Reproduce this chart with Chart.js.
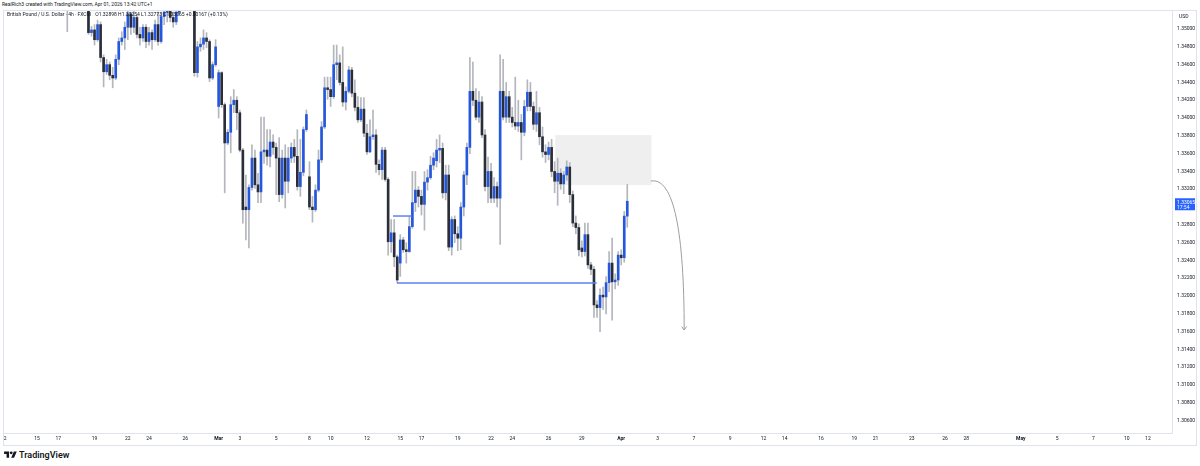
<!DOCTYPE html>
<html>
<head>
<meta charset="utf-8">
<script src="https://cdn.jsdelivr.net/npm/chart.js@4.4.1/dist/chart.umd.min.js"></script>
<style>
  html, body { margin: 0; padding: 0; background: #fff; }
  #page { position: relative; width: 1200px; height: 466px; overflow: hidden; font-family: Roboto, "Liberation Sans", sans-serif; color: #131722; }
  #credit { position: absolute; left: 2px; top: 1px; font-size: 5px; line-height: 7px; white-space: nowrap; }
  #legend { position: absolute; left: 7px; top: 11px; font-size: 5px; line-height: 7px; white-space: nowrap; z-index: 2; }
  #legend span { margin-left: 3px; }
  #usd { position: absolute; left: 1179px; top: 13px; font-size: 5px; line-height: 6px; z-index: 2; }
  #box { position: absolute; left: 3px; top: 10px; width: 1194px; height: 436px; }
  #logo { position: absolute; left: 4px; top: 449px; height: 12px; display: flex; align-items: center; gap: 2px; font-size: 9px; font-weight: 600; }
</style>
</head>
<body>
<div id="page">
  <div id="credit">RealRich3 created with TradingView.com, Apr 01, 2026 13:42 UTC+1</div>
  <div id="legend">British Pound / U.S. Dollar · 4h · FXCM <span>O1.32898 H1.33254 L1.32773 C1.33065 +0.00167 (+0.13%)</span></div>
  <div id="usd">USD</div>
  <div id="box"><canvas id="chart"></canvas></div>
  <div id="logo">
    <svg width="13" height="10" viewBox="0 0 36 28"><path d="M14 22H7V11H0V4h14v18zM28 22h-8l7.5-18h8L28 22z" fill="#131722"/><circle cx="20" cy="8" r="4" fill="#131722"/></svg>
    <span>TradingView</span>
  </div>
</div>
<script>
// 4h bars, index counted from Sunday Feb 8 open (first visible bar is 40)
const firstBar = 40;

const opens = [
  1.3536,1.3528,1.3533,1.3530,1.3541,1.3535,1.3529,1.3527,1.3496,1.3499,
  1.3488,1.3505,1.3468,1.3452,1.3460,1.3448,1.3445,1.3466,1.3486,1.3490,
  1.3502,1.3517,1.3502,1.3513,1.3494,1.3490,1.3502,1.3486,1.3496,1.3488,
  1.3505,1.3486,1.3514,1.3519,1.3524,1.3513,1.3508,1.3519,1.3530,1.3538,
  1.3533,1.3540,1.3535,1.3451,1.3480,1.3483,1.3490,1.3486,1.3445,1.3460,
  1.3413,1.3451,1.3415,1.3372,1.3384,1.3415,1.3420,1.3406,1.3364,1.3300,
  1.3297,1.3322,1.3355,1.3325,1.3317,1.3362,1.3364,1.3357,1.3373,1.3367,
  1.3355,1.3314,1.3355,1.3329,1.3355,1.3367,1.3357,1.3323,1.3339,1.3387,
  1.3334,1.3300,1.3297,1.3319,1.3353,1.3390,1.3434,1.3432,1.3424,1.3460,
  1.3462,1.3440,1.3418,1.3430,1.3454,1.3428,1.3412,1.3398,1.3410,1.3383,
  1.3362,1.3379,1.3381,1.3348,1.3342,1.3364,1.3331,1.3261,1.3271,1.3244,
  1.3237,1.3263,1.3252,1.3250,1.3278,1.3305,1.3319,1.3312,1.3303,1.3328,
  1.3333,1.3347,1.3352,1.3364,1.3366,1.3316,1.3336,1.3255,1.3286,1.3270,
  1.3265,1.3300,1.3336,1.3367,1.3430,1.3420,1.3401,1.3418,1.3381,1.3323,
  1.3340,1.3310,1.3323,1.3310,1.3430,1.3401,1.3424,1.3401,1.3395,1.3391,
  1.3395,1.3384,1.3413,1.3429,1.3413,1.3393,1.3406,1.3379,1.3362,1.3359,
  1.3367,1.3340,1.3329,1.3338,1.3326,1.3336,1.3345,1.3314,1.3282,1.3277,
  1.3254,1.3250,1.3269,1.3235,1.3230,1.3190,1.3187,1.3201,1.3199,1.3215,
  1.3237,1.3216,1.3218,1.3246,1.3243,1.32898
];
const highs = [
  1.3541,1.3538,1.3540,1.3545,1.3546,1.3538,1.3534,1.3531,1.3503,1.3505,
  1.3510,1.3508,1.3471,1.3466,1.3463,1.3457,1.3471,1.3490,1.3497,1.3508,
  1.3522,1.3519,1.3522,1.3516,1.3502,1.3505,1.3505,1.3502,1.3499,1.3510,
  1.3519,1.3519,1.3524,1.3530,1.3528,1.3519,1.3528,1.3536,1.3545,1.3544,
  1.3546,1.3548,1.3540,1.3486,1.3490,1.3499,1.3496,1.3488,1.3463,1.3488,
  1.3454,1.3452,1.3417,1.3387,1.3424,1.3432,1.3424,1.3409,1.3366,1.3336,
  1.3325,1.3370,1.3364,1.3338,1.3401,1.3401,1.3387,1.3387,1.3381,1.3372,
  1.3378,1.3364,1.3370,1.3367,1.3372,1.3376,1.3387,1.3376,1.3390,1.3409,
  1.3351,1.3312,1.3325,1.3364,1.3396,1.3446,1.3446,1.3446,1.3482,1.3482,
  1.3471,1.3480,1.3435,1.3458,1.3457,1.3443,1.3424,1.3423,1.3423,1.3393,
  1.3398,1.3409,1.3387,1.3353,1.3367,1.3367,1.3333,1.3286,1.3286,1.3246,
  1.3269,1.3266,1.3260,1.3289,1.3340,1.3340,1.3323,1.3319,1.3340,1.3342,
  1.3357,1.3361,1.3376,1.3381,1.3372,1.3347,1.3347,1.3289,1.3290,1.3278,
  1.3305,1.3340,1.3372,1.3468,1.3463,1.3433,1.3430,1.3424,1.3387,1.3356,
  1.3349,1.3333,1.3328,1.3471,1.3466,1.3440,1.3430,1.3412,1.3446,1.3420,
  1.3404,1.3420,1.3443,1.3440,1.3418,1.3430,1.3412,1.3390,1.3370,1.3373,
  1.3376,1.3351,1.3355,1.3343,1.3340,1.3352,1.3350,1.3318,1.3290,1.3281,
  1.3262,1.3282,1.3282,1.3238,1.3233,1.3195,1.3208,1.3210,1.3222,1.3250,
  1.3265,1.3225,1.3250,1.3252,1.3295,1.33254
];
const lows = [
  1.3497,1.3523,1.3525,1.3527,1.3531,1.3526,1.3523,1.3494,1.3492,1.3482,
  1.3486,1.3463,1.3435,1.3449,1.3443,1.3434,1.3443,1.3460,1.3482,1.3477,
  1.3488,1.3494,1.3496,1.3490,1.3482,1.3486,1.3479,1.3482,1.3477,1.3486,
  1.3482,1.3484,1.3505,1.3508,1.3508,1.3502,1.3505,1.3516,1.3524,1.3527,
  1.3525,1.3528,1.3447,1.3446,1.3475,1.3477,1.3479,1.3441,1.3443,1.3458,
  1.3400,1.3412,1.3316,1.3370,1.3361,1.3406,1.3387,1.3362,1.3282,1.3263,
  1.3254,1.3319,1.3321,1.3305,1.3305,1.3349,1.3347,1.3345,1.3359,1.3314,
  1.3306,1.3310,1.3299,1.3316,1.3350,1.3350,1.3319,1.3312,1.3335,1.3385,
  1.3297,1.3283,1.3295,1.3317,1.3350,1.3388,1.3421,1.3413,1.3422,1.3443,
  1.3437,1.3413,1.3409,1.3428,1.3424,1.3408,1.3395,1.3396,1.3379,1.3359,
  1.3361,1.3376,1.3339,1.3336,1.3331,1.3329,1.3246,1.3249,1.3233,1.3215,
  1.3222,1.3249,1.3237,1.3249,1.3276,1.3295,1.3300,1.3291,1.3274,1.3319,
  1.3331,1.3342,1.3345,1.3350,1.3310,1.3308,1.3251,1.3246,1.3260,1.3251,
  1.3252,1.3290,1.3325,1.3360,1.3414,1.3398,1.3395,1.3378,1.3318,1.3305,
  1.3305,1.3305,1.3300,1.3258,1.3398,1.3395,1.3395,1.3390,1.3387,1.3385,
  1.3353,1.3380,1.3408,1.3408,1.3387,1.3385,1.3370,1.3356,1.3350,1.3353,
  1.3334,1.3316,1.3302,1.3320,1.3315,1.3330,1.3305,1.3278,1.3270,1.3245,
  1.3244,1.3245,1.3231,1.3224,1.3176,1.3176,1.3160,1.3185,1.3180,1.3205,
  1.3173,1.3208,1.3212,1.3235,1.3238,1.32773
];
const closes = [
  1.3528,1.3533,1.3530,1.3541,1.3535,1.3529,1.3527,1.3496,1.3499,1.3488,
  1.3505,1.3468,1.3452,1.3460,1.3448,1.3445,1.3466,1.3486,1.3490,1.3502,
  1.3517,1.3502,1.3513,1.3494,1.3490,1.3502,1.3486,1.3496,1.3488,1.3505,
  1.3486,1.3514,1.3519,1.3524,1.3513,1.3508,1.3519,1.3530,1.3538,1.3533,
  1.3540,1.3535,1.3451,1.3480,1.3483,1.3490,1.3486,1.3445,1.3460,1.3480,
  1.3451,1.3415,1.3372,1.3384,1.3415,1.3420,1.3406,1.3364,1.3297,1.3297,
  1.3322,1.3355,1.3325,1.3317,1.3362,1.3364,1.3357,1.3373,1.3367,1.3355,
  1.3314,1.3355,1.3329,1.3355,1.3367,1.3357,1.3323,1.3339,1.3387,1.3404,
  1.3300,1.3297,1.3319,1.3353,1.3390,1.3434,1.3432,1.3424,1.3460,1.3462,
  1.3440,1.3418,1.3430,1.3454,1.3428,1.3412,1.3398,1.3410,1.3383,1.3362,
  1.3379,1.3381,1.3348,1.3342,1.3364,1.3331,1.3261,1.3271,1.3244,1.3218,
  1.3263,1.3252,1.3250,1.3278,1.3305,1.3319,1.3312,1.3303,1.3328,1.3333,
  1.3347,1.3355,1.3364,1.3366,1.3316,1.3336,1.3255,1.3286,1.3270,1.3265,
  1.3300,1.3336,1.3367,1.3430,1.3420,1.3401,1.3418,1.3381,1.3323,1.3340,
  1.3310,1.3323,1.3310,1.3430,1.3401,1.3424,1.3401,1.3395,1.3391,1.3395,
  1.3384,1.3413,1.3429,1.3413,1.3393,1.3406,1.3379,1.3362,1.3359,1.3367,
  1.3340,1.3329,1.3338,1.3326,1.3336,1.3345,1.3314,1.3282,1.3277,1.3252,
  1.3250,1.3269,1.3235,1.3230,1.3190,1.3187,1.3201,1.3199,1.3215,1.3237,
  1.3216,1.3218,1.3246,1.3243,1.32898,1.33065
];

// price scale ticks
const yTicks = [1.306,1.308,1.310,1.312,1.314,1.316,1.318,1.320,1.322,1.324,1.326,1.328,
  1.330,1.332,1.334,1.336,1.338,1.340,1.342,1.344,1.346,1.348,1.350];

// time scale ticks (bar index and text)
const xTickBars = [19,30,37,49,60,67,79,90,97,109,120,127,139,150,157,169,180,187,199,210,
  223,235,247,259,270,277,289,300,307,319,330,337,355,367,379,390,397];
const xTickLabels = ['12','15','17','19','22','24','26','Mar','3','5','8','10','12','15','17','19','22','24','26','29',
  'Apr','3','7','9','12','14','16','19','21','23','26','28','May','5','7','10','12'];
const monthLabels = ['Mar','Apr','May'];

// drawings (bar index / price)
const supportLine = { price: 1.32146, from: 148.9, to: 214.9 };
const smallLine = { price: 1.32899, from: 147.6, to: 153.8 };
const zone = { from: 201.2, to: 233.0, top: 1.33809, bottom: 1.33247 };
const arrowPath = [[232.8, 1.33292], [240.5, 1.33340], [243.8, 1.32700], [243.8, 1.31618]];
const countdown = '17:54';

const upColor = '#2457dd';
const downColor = '#2a2e39';
const wickColor = '#b3b6bd';

const bars = opens.map((o, i) => firstBar + i);

const overlays = {
  id: 'overlays',
  beforeDatasetsDraw(chart) {
    const {ctx, scales: {x, y}} = chart;
    const x1 = x.getPixelForValue(zone.from), x2 = x.getPixelForValue(zone.to);
    const y1 = y.getPixelForValue(zone.top), y2 = y.getPixelForValue(zone.bottom);
    ctx.save();
    ctx.fillStyle = 'rgba(120,123,134,0.12)';
    ctx.fillRect(x1, y1, x2 - x1, y2 - y1);
    ctx.restore();
  },
  afterDatasetsDraw(chart) {
    const {ctx, scales: {x, y}} = chart;
    ctx.save();
    ctx.lineWidth = 1.5;
    ctx.strokeStyle = '#5b82f5';
    [supportLine, smallLine].forEach(l => {
      const py = y.getPixelForValue(l.price);
      ctx.beginPath();
      ctx.moveTo(x.getPixelForValue(l.from), py);
      ctx.lineTo(x.getPixelForValue(l.to), py);
      ctx.stroke();
    });
    const pts = arrowPath.map(p => [x.getPixelForValue(p[0]), y.getPixelForValue(p[1])]);
    ctx.lineWidth = 1;
    ctx.strokeStyle = '#9b9ea6';
    ctx.beginPath();
    ctx.moveTo(pts[0][0], pts[0][1]);
    ctx.bezierCurveTo(pts[1][0], pts[1][1], pts[2][0], pts[2][1], pts[3][0], pts[3][1]);
    ctx.stroke();
    const [ex, ey] = pts[3];
    ctx.beginPath();
    ctx.moveTo(ex - 2.5, ey - 3.5);
    ctx.lineTo(ex, ey);
    ctx.lineTo(ex + 2.5, ey - 3.5);
    ctx.stroke();
    ctx.restore();
  },
  afterDraw(chart) {
    const {ctx, chartArea, scales: {y}} = chart;
    const last = closes[closes.length - 1];
    const py = y.getPixelForValue(last);
    ctx.save();
    ctx.fillStyle = '#2962ff';
    ctx.fillRect(chartArea.right + 3, py - 3, 20, 12);
    ctx.fillStyle = '#fff';
    ctx.font = '5px Roboto, "Liberation Sans", sans-serif';
    ctx.textBaseline = 'middle';
    ctx.fillText(last.toFixed(5), chartArea.right + 5, py + 1);
    ctx.fillText(countdown, chartArea.right + 5, py + 6);
    ctx.strokeStyle = '#e0e3eb';
    ctx.lineWidth = 1;
    ctx.strokeRect(0.5, 0.5, chart.width - 1, chart.height - 1);
    ctx.restore();
  }
};

Chart.defaults.font.family = 'Roboto, "Liberation Sans", sans-serif';

new Chart(document.getElementById('chart'), {
  type: 'bar',
  data: {
    datasets: [
      {
        label: 'body',
        data: bars.map((b, i) => ({ x: b, y: [opens[i], closes[i]] })),
        backgroundColor: ctx => closes[ctx.dataIndex] >= opens[ctx.dataIndex] ? upColor : downColor,
        grouped: false,
        categoryPercentage: 1,
        barPercentage: 1,
        maxBarThickness: 2,
        minBarLength: 1,
        borderWidth: 0
      },
      {
        label: 'wick',
        data: bars.map((b, i) => ({ x: b, y: [lows[i], highs[i]] })),
        backgroundColor: wickColor,
        grouped: false,
        categoryPercentage: 1,
        barPercentage: 1,
        maxBarThickness: 1,
        borderWidth: 0
      }
    ]
  },
  options: {
    responsive: true,
    maintainAspectRatio: false,
    animation: false,
    layout: { padding: 0, autoPadding: false },
    plugins: { legend: { display: false }, tooltip: { enabled: false } },
    scales: {
      x: {
        type: 'linear',
        min: 18.76,
        max: 404.96,
        offset: false,
        grid: { display: false, drawTicks: false },
        border: { color: '#e0e3eb' },
        afterBuildTicks: s => { s.ticks = xTickBars.map(v => ({ value: v })); },
        afterFit: s => { s.height = 13; s.paddingLeft = 0; s.paddingRight = 0; },
        ticks: {
          autoSkip: false,
          maxRotation: 0,
          padding: 3,
          color: '#131722',
          font: ctx => ({ size: 5, weight: monthLabels.includes(xTickLabels[ctx.index]) ? 'bold' : 'normal' }),
          callback: (v, i) => xTickLabels[i]
        }
      },
      y: {
        position: 'right',
        min: 1.30461,
        max: 1.35214,
        grid: { display: false, drawTicks: false },
        border: { color: '#e0e3eb' },
        afterBuildTicks: s => { s.ticks = yTicks.map(v => ({ value: v })); },
        afterFit: s => { s.width = 25; s.paddingTop = 0; s.paddingBottom = 0; },
        ticks: {
          padding: 5,
          color: '#131722',
          font: { size: 5 },
          callback: v => v.toFixed(5)
        }
      }
    }
  },
  plugins: [overlays]
});
</script>
</body>
</html>
